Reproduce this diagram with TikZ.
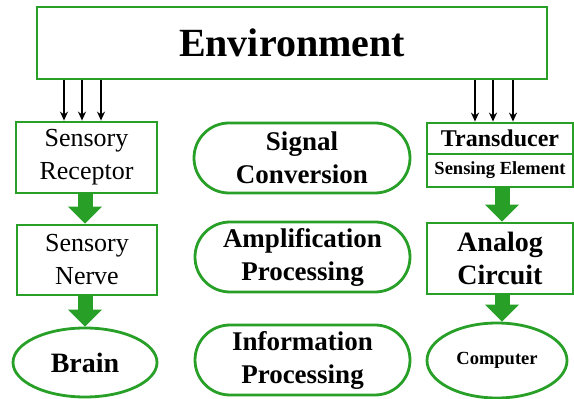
\documentclass[tikz,border=0pt]{standalone}
\usepackage{fontspec}
\setmainfont{Liberation Serif}
\usetikzlibrary{arrows.meta,shapes.geometric,shapes.misc}
\definecolor{gr}{RGB}{40,160,40}
\tikzset{
  box/.style={draw=gr, line width=2.8pt, rectangle, inner sep=0pt, align=center},
  oval/.style={draw=gr, line width=2.8pt, ellipse, inner sep=0pt, align=center},
  pill/.style={draw=gr, line width=2.8pt, rounded rectangle, inner sep=0pt, align=center},
  thin/.style={draw=black, line width=2.2pt, -{Stealth[length=9pt,width=8pt]}},
  fat/.style={draw=gr, line width=15pt, -{Triangle[length=17pt,width=33pt]}},
}
\begin{document}
\begin{tikzpicture}[x=1pt,y=1pt]
\useasboundingbox (0,0) rectangle (574,399);
\node[box, minimum width=510pt, minimum height=72pt, font=\fontsize{40}{44}\selectfont\bfseries] (env) at (292,356) {Environment};
\node[box, minimum width=141pt, minimum height=71pt, font=\fontsize{26}{33}\selectfont] (rec) at (86.5,241.5) {Sensory\\Receptor};
\node[box, minimum width=140pt, minimum height=70pt, font=\fontsize{26}{33}\selectfont] (nerve) at (87,139) {Sensory\\Nerve};
\node[oval, minimum width=144pt, minimum height=69pt, font=\fontsize{28}{33}\selectfont\bfseries] (brain) at (85,36.5) {Brain};
\node[pill, minimum width=216pt, minimum height=70pt, font=\fontsize{27}{33}\selectfont\bfseries] (sig) at (302,241) {Signal\\Conversion};
\node[pill, minimum width=215pt, minimum height=70pt, font=\fontsize{27}{33}\selectfont\bfseries] (amp) at (302.5,142) {Amplification\\Processing};
\node[pill, minimum width=215pt, minimum height=70pt, font=\fontsize{27}{33}\selectfont\bfseries] (inf) at (302.5,39) {Information\\Processing};
\node[box, minimum width=146pt, minimum height=31pt, font=\fontsize{24}{28}\selectfont\bfseries] (trans) at (500,260.5) {Transducer};
\node[box, minimum width=146pt, minimum height=33pt, font=\fontsize{18.5}{22}\selectfont\bfseries] (sense) at (500,228.5) {Sensing Element};
\node[box, minimum width=146pt, minimum height=71pt, font=\fontsize{28}{33}\selectfont\bfseries] (ana) at (500,140.5) {Analog\\Circuit};
\node[oval, minimum width=140pt, minimum height=75pt, font=\fontsize{18.5}{22}\selectfont\bfseries] (comp) at (497,38.5) {Computer};
% thin arrows
\foreach \i/\x in {1/64,2/82,3/101}{
  \coordinate (cl\i) at (\x,0);
  \draw[thin] (env.south -| cl\i) -- (rec.north -| cl\i);
}
\foreach \i/\x in {1/475,2/493,3/513}{
  \coordinate (cr\i) at (\x,0);
  \draw[thin] (env.south -| cr\i) -- (trans.north -| cr\i);
}
% thick arrows
\coordinate (colL) at (85,0);
\coordinate (colR) at (502,0);
\draw[fat] (rec.south -| colL) -- (nerve.north -| colL);
\draw[fat] (nerve.south -| colL) -- (brain.north -| colL);
\draw[fat] (sense.south -| colR) -- (ana.north -| colR);
\draw[fat] (ana.south -| colR) -- (comp.north -| colR);
\end{tikzpicture}
\end{document}
